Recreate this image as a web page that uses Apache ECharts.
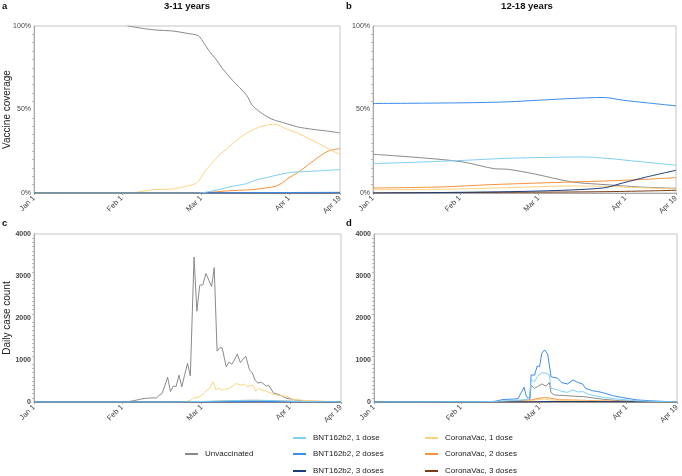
<!DOCTYPE html>
<html>
<head>
<meta charset="utf-8">
<script src="https://cdn.jsdelivr.net/npm/echarts@6/dist/echarts.min.js"></script>
<style>
html,body{margin:0;padding:0;background:#fff;}
#chart{width:682px;height:476px;}
</style>
</head>
<body>
<div id="chart"></div>
<script>
// ---- tick labels (day index from Jan 1) ----
const tickDays = [0, 31, 59, 90, 108];
const tickLabels = ['Jan 1', 'Feb 1', 'Mar 1', 'Apr 1', 'Apr 19'];

const seriesNames = ['Unvaccinated', 'BNT162b2, 1 dose', 'BNT162b2, 2 doses', 'BNT162b2, 3 doses',
  'CoronaVac, 1 dose', 'CoronaVac, 2 doses', 'CoronaVac, 3 doses'];
const seriesColors = ['#8a8a8a', '#7fcff4', '#3a8ced', '#1d3d7a', '#fdd27e', '#f5913c', '#7a3c14'];

// ---- panel a: 3-11 years, vaccine coverage (%) ----
const aUnvac = [[33,100],[36,99.2],[39,98.4],[43,97.6],[49,97],[54,95.6],[58,94.2],[59.5,91],[62,84.6],[64,80.6],[66.5,74.6],[70,67.6],[75,58.6],[77,52.6],[80.5,47.6],[84,44.2],[89,41.6],[93,39.6],[98,38.2],[103,37.2],[108,36]];
const aBnt1 = [[0,0],[58,0],[64,1.6],[70,4],[75,5.6],[78,7.6],[82,9.2],[87,11.2],[91,12.4],[96,12.8],[100,13.2],[108,14]];
const aBnt2 = [[59,0],[75,0.2],[90,0.3],[108,0.4]];
const aBnt3 = [[0,0],[108,0]];
const aCv1 = [[0,0],[34,0],[37,0.6],[42,2],[49,2.4],[53.6,4],[57,5.6],[58.3,7.6],[60.6,13.6],[62.4,17],[65.3,22.6],[68.8,27.6],[72.3,32.6],[75.8,36.6],[80.5,40],[85.2,41.2],[88.7,38.6],[93.4,35.6],[98.1,31.6],[102.8,27.6],[105.2,25.2],[108,23.2]];
const aCv2 = [[0,0],[58,0],[67.6,1.2],[72.3,1.6],[77,2],[81.7,3],[85.2,4],[87.6,6],[89.9,9],[93.4,12.6],[97,17.2],[100.5,21.6],[104,25.2],[108,26.6]];
const aCv3 = [[0,0],[108,0]];

// ---- panel b: 12-18 years, vaccine coverage (%) ----
const bUnvac = [[0,23.2],[18,21],[32,18.6],[43,14.6],[48,14.2],[57,11.6],[71,6.6],[83,5],[95,3.6],[108,2.8]];
const bBnt1 = [[0,17.6],[18,18.6],[33,19.6],[48,20.8],[59.5,21.2],[74,21.6],[83,20.8],[95,18.8],[108,16.6]];
const bBnt2 = [[0,53.6],[32,54],[48,54.6],[59.5,55.6],[71,56.6],[82,57.2],[89,55.6],[97.5,54],[108,52.2]];
const bBnt3 = [[0,0],[30,0.4],[59.5,1.2],[82,3],[89,6],[97.5,9.6],[108,13.6]];
const bCv1 = [[0,2],[24,2.2],[48,3.2],[71,4.2],[83,4],[95,3.2],[108,2.4]];
const bCv2 = [[0,3],[24,3.6],[42,5],[59.5,6],[71,6.6],[83,7.2],[95,8],[108,9.2]];
const bCv3 = [[0,0],[48,0.4],[83,0.8],[108,1.6]];

// ---- panel c: 3-11 years, daily case count ----
const cUnvac = [[0,0],[30,5],[33,10],[34,20],[35,30],[36,45],[37,60],[38,75],[39,85],[40,90],[41,95],[42,100],[43,90],[44,160],[45,200],[46,380],[47,590],[48,250],[49,380],[50,370],[51,640],[52,360],[53,650],[54,920],[55,620],[56.3,3450],[57.3,2160],[58.3,2780],[59.4,2790],[60.5,3060],[61.5,2900],[62.5,2750],[63.4,3200],[64.4,1210],[65.3,1290],[66.2,1290],[67.6,840],[68.6,950],[69.6,900],[70.5,1000],[71.5,1140],[72.6,940],[73.6,1020],[74.5,1090],[75.8,770],[76.8,690],[77.8,520],[78.8,450],[80,470],[80.6,490],[81.7,380],[82.6,395],[84.3,210],[86.4,170],[88.7,90],[90.5,70],[92.3,45],[95.8,25],[100,15],[104,10],[108,5]];
const cBnt1 = [[0,0],[50,0],[60,15],[68,30],[74,40],[80,40],[86,30],[92,15],[100,8],[108,3]];
const cBnt2 = [[0,0],[55,0],[62,5],[70,10],[78,15],[85,12],[95,6],[108,2]];
const cBnt3 = [[0,0],[108,0]];
const cCv1 = [[0,0],[52,0],[53,10],[54,20],[55,40],[56,95],[57,100],[58,120],[59,160],[60,230],[61,290],[62,340],[63,480],[64,290],[65,330],[66,280],[67,300],[68,310],[69,340],[70,380],[71,440],[72,420],[73,400],[74,430],[75,360],[76,390],[77,400],[78,260],[79,320],[80,290],[81,270],[82,250],[83,220],[84,190],[85,175],[86,160],[87,150],[88,140],[89,130],[90,100],[91,65],[92,55],[93,48],[95,38],[98,28],[102,18],[108,8]];
const cCv2 = [[0,0],[56,0],[60,8],[66,20],[72,35],[78,40],[84,30],[90,20],[98,8],[108,3]];
const cCv3 = [[0,0],[60,0],[72,5],[84,5],[108,0]];

// ---- panel d: 12-18 years, daily case count ----
const dUnvac = [[0,0],[40,5],[50,25],[53,40],[55.5,50],[56,405],[57.2,325],[58.2,365],[59.8,430],[61.3,380],[62.5,460],[63.1,222],[64.3,167],[70.2,143],[74.8,127],[81.9,63],[87.8,30],[93.7,15],[100,8],[108,2]];
const dBnt1 = [[0,0],[40,5],[48,30],[52,45],[54,60],[55.5,127],[56,524],[57.2,484],[58.2,603],[59.8,700],[61.3,683],[62.5,643],[63.1,325],[65.5,290],[67,250],[69,230],[70.9,290],[72.5,240],[74.5,245],[77.2,167],[81.9,110],[87.8,63],[93,30],[100,12],[108,3]];
const dBnt2 = [[0,0],[30,2],[40,10],[43,15],[46,60],[50,70],[51.4,80],[52.3,206],[53.5,350],[54.3,127],[55.5,90],[56,643],[57.2,640],[58.2,860],[59,840],[59.8,1160],[60.8,1240],[61.9,1140],[63.1,600],[63.7,565],[65.5,565],[66.9,460],[69,430],[70.9,525],[72.5,470],[74.3,430],[75.4,325],[77.8,270],[80.1,245],[82.5,205],[85.4,145],[89,100],[93.7,50],[98.4,30],[103,15],[108,3]];
const dBnt3 = [[0,0],[55,0],[60,10],[70,12],[80,10],[90,5],[108,1]];
const dCv1 = [[0,0],[50,3],[56,30],[58,55],[60.8,70],[63,45],[70,35],[80,20],[90,8],[108,2]];
const dCv2 = [[0,0],[50,5],[55,20],[56,48],[58.4,87],[60.8,103],[62.5,95],[63.1,63],[66,55],[70.2,48],[75,40],[81.9,25],[90,12],[100,5],[108,2]];
const dCv3 = [[0,0],[58,0],[65,5],[80,4],[108,0]];

const panels = [
  [aUnvac, aBnt1, aBnt2, aBnt3, aCv1, aCv2, aCv3],
  [bUnvac, bBnt1, bBnt2, bBnt3, bCv1, bCv2, bCv3],
  [cUnvac, cBnt1, cBnt2, cBnt3, cCv1, cCv2, cCv3],
  [dUnvac, dBnt1, dBnt2, dBnt3, dCv1, dCv2, dCv3]
];
// drawing order (higher = on top) per series index
const zOrder = [3, 9, 8, 7, 5, 4, 6];

const FONT = 'Liberation Sans, Arial, sans-serif';
const grids = [
  {left: 34, top: 26, width: 306, height: 167},
  {left: 373, top: 26, width: 303, height: 167},
  {left: 34, top: 234, width: 307, height: 168},
  {left: 374, top: 234, width: 306, height: 168}
].map(g => Object.assign({show: true, borderColor: '#c4c4c4', borderWidth: 1, containLabel: false}, g));

const xAxes = grids.map((g, i) => ({
  type: 'value', gridIndex: i, min: 0, max: 108,
  splitLine: {show: false},
  axisLine: {show: true, lineStyle: {color: '#a8a8a8', width: 1}},
  axisTick: {show: true, customValues: tickDays, length: 2, lineStyle: {color: '#a8a8a8'}},
  axisLabel: {
    customValues: tickDays, rotate: 45, margin: 4, fontSize: 7.5, color: '#444', fontFamily: FONT,
    formatter: v => tickLabels[tickDays.indexOf(v)]
  }
}));

const yAxes = grids.map((g, i) => {
  const pct = i < 2;
  return {
    type: 'value', gridIndex: i, min: 0, max: pct ? 100 : 4000, interval: pct ? 50 : 1000,
    name: i === 0 ? 'Vaccine coverage' : (i === 2 ? 'Daily case count' : ''),
    nameLocation: 'middle', nameGap: 22, nameRotate: 90, nameMoveOverlap: false,
    nameTextStyle: {fontSize: 10, color: '#222', fontFamily: FONT},
    splitLine: {show: false},
    axisLine: {show: true, lineStyle: {color: '#a8a8a8', width: 1}},
    axisTick: {show: false},
    minorTick: {show: true, splitNumber: 10, length: 2, lineStyle: {color: '#b8b8b8'}},
    axisLabel: {
      fontSize: 7, color: '#444', fontFamily: FONT, margin: 3,
      fontWeight: pct ? 'normal' : 'bold',
      formatter: v => pct ? (v + '%') : String(v)
    }
  };
});

const series = [];
panels.forEach((sets, gi) => {
  sets.forEach((data, si) => {
    series.push({
      type: 'line', name: seriesNames[si], xAxisIndex: gi, yAxisIndex: gi,
      data: data, showSymbol: false, symbol: 'none',
      smooth: gi < 2 ? 0.3 : false,
      lineStyle: {color: seriesColors[si], width: 1},
      itemStyle: {color: seriesColors[si]},
      z: zOrder[si], animation: false
    });
  });
});

// legend item positions: [left, centerY]
const legendPos = [[185, 455], [293, 439], [293, 455], [293, 472], [425, 439], [425, 455], [425, 472]];
const legends = seriesNames.map((n, k) => ({
  data: [n], left: legendPos[k][0], top: legendPos[k][1] - 5, padding: 0,
  icon: 'rect', itemWidth: 13, itemHeight: 2, itemGap: 0,
  textStyle: {fontSize: 8, color: '#222', fontFamily: FONT, padding: [0, 0, 0, 2]}, selectedMode: false
}));

const titleStyle = {fontSize: 9.5, fontWeight: 'bold', color: '#111', fontFamily: FONT};
const option = {
  animation: false,
  backgroundColor: '#ffffff',
  title: [
    {text: 'a', left: 2, top: 1, padding: 0, textStyle: titleStyle},
    {text: 'b', left: 346, top: 1, padding: 0, textStyle: titleStyle},
    {text: 'c', left: 2, top: 218, padding: 0, textStyle: titleStyle},
    {text: 'd', left: 346, top: 218, padding: 0, textStyle: titleStyle},
    {text: '3-11 years', left: 187, top: 1, padding: 0, textAlign: 'center', textStyle: titleStyle},
    {text: '12-18 years', left: 527, top: 1, padding: 0, textAlign: 'center', textStyle: titleStyle}
  ],
  grid: grids,
  xAxis: xAxes,
  yAxis: yAxes,
  legend: legends,
  series: series
};

const chart = echarts.init(document.getElementById('chart'), null, {renderer: 'canvas'});
chart.setOption(option);
</script>
</body>
</html>
